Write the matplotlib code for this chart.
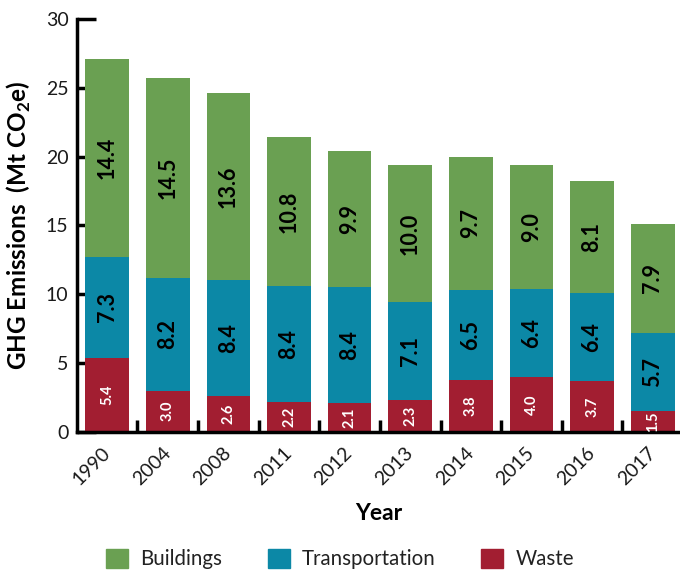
import matplotlib
matplotlib.use("Agg")
import matplotlib.pyplot as plt
import numpy as np
from matplotlib.patches import Patch

plt.rcParams['font.family'] = ['Lato', 'DejaVu Sans']

years = ["1990", "2004", "2008", "2011", "2012", "2013", "2014", "2015", "2016", "2017"]
waste = [5.4, 3.0, 2.6, 2.2, 2.1, 2.3, 3.8, 4.0, 3.7, 1.5]
transportation = [7.3, 8.2, 8.4, 8.4, 8.4, 7.1, 6.5, 6.4, 6.4, 5.7]
buildings = [14.4, 14.5, 13.6, 10.8, 9.9, 10.0, 9.7, 9.0, 8.1, 7.9]
yticks = [0, 5, 10, 15, 20, 25, 30]

c_build = "#6AA052"
c_trans = "#0C88A6"
c_waste = "#A21E31"
txt = "#1a1a1a"

fig = plt.figure(figsize=(6.8, 5.72), dpi=100)
ax = fig.add_axes([0.113, 0.245, 0.887, 0.722])

x = np.arange(len(years))
w = 0.72
waste_a = np.array(waste)
trans_a = np.array(transportation)
build_a = np.array(buildings)

ax.bar(x, waste_a, w, color=c_waste, label="Waste", zorder=2)
ax.bar(x, trans_a, w, bottom=waste_a, color=c_trans, label="Transportation", zorder=2)
ax.bar(x, build_a, w, bottom=waste_a + trans_a, color=c_build, label="Buildings", zorder=2)

for i in range(len(years)):
    ax.text(x[i], waste_a[i] / 2, f"{waste[i]:.1f}", rotation=90, ha="center", va="center",
            color="white", fontsize=10.5, fontweight="bold")
    ax.text(x[i], waste_a[i] + trans_a[i] / 2, f"{transportation[i]:.1f}", rotation=90,
            ha="center", va="center", color="black", fontsize=15.5, fontweight="bold")
    ax.text(x[i], waste_a[i] + trans_a[i] + build_a[i] / 2, f"{buildings[i]:.1f}", rotation=90,
            ha="center", va="center", color="black", fontsize=15.5, fontweight="bold")

ax.set_xlim(-0.5, 9.45)
ax.set_ylim(0, 30)
ax.set_yticks(yticks)
ax.set_yticklabels([str(t) for t in yticks], fontsize=14, color=txt)
ax.tick_params(axis="y", direction="in", length=14, width=2.5, pad=6)

ax.set_xticks(x)
ax.set_xticklabels(years, rotation=45, ha="right", va="center", rotation_mode="anchor",
                   fontsize=14, color=txt)
ax.tick_params(axis="x", length=0, pad=13)
ax.set_xticks(x[:-1] + 0.5, minor=True)
ax.tick_params(axis="x", which="minor", direction="in", length=9, width=2.5)

for s in ["top", "right"]:
    ax.spines[s].set_visible(False)
ax.spines["left"].set_linewidth(2.5)
ax.spines["bottom"].set_linewidth(2.5)

ax.set_ylabel("GHG Emissions  (Mt CO$_\\mathregular{2}$e)", fontsize=17.5, fontweight="bold", labelpad=9)
ax.set_xlabel("Year", fontsize=16.5, fontweight="bold", labelpad=11)

handles = [Patch(color=c_build, label="Buildings"), Patch(color=c_trans, label="Transportation"),
           Patch(color=c_waste, label="Waste")]
leg = fig.legend(handles=handles, loc="center", bbox_to_anchor=(0.5, 13 / 572), ncol=3, frameon=False,
                 fontsize=14.8, handlelength=1.07, handleheight=1.07, columnspacing=2.2,
                 handletextpad=0.6, borderpad=0)
for t in leg.get_texts():
    t.set_color("#222222")

fig.savefig("out.png", dpi=100)
